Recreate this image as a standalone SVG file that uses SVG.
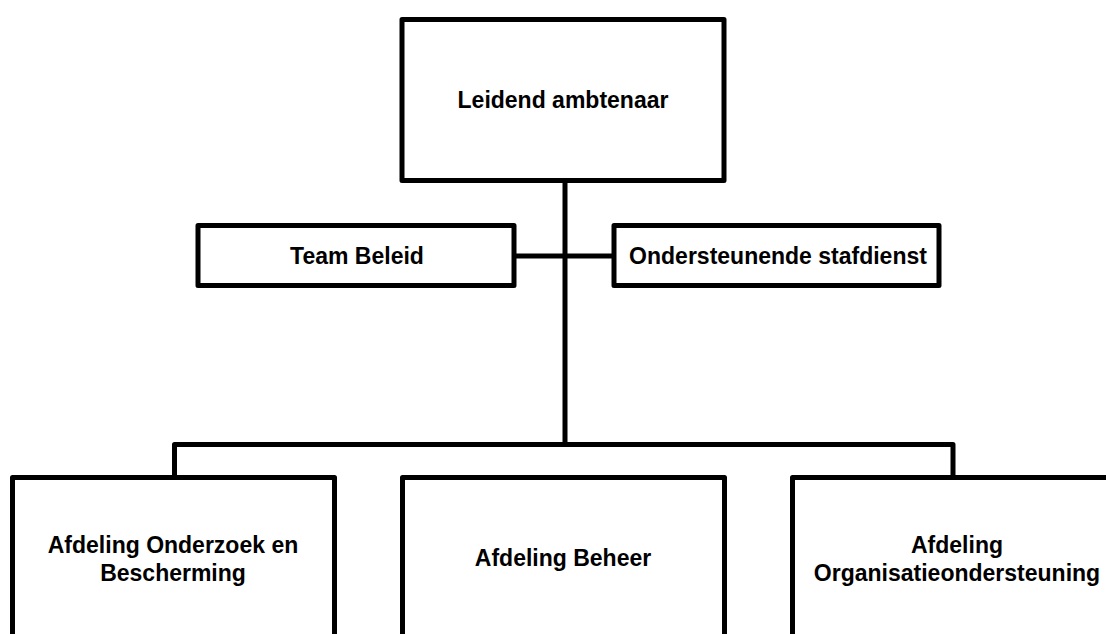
<svg xmlns="http://www.w3.org/2000/svg" width="1106" height="634" viewBox="0 0 1106 634">
<style>
.box{fill:#fff;stroke:#000;stroke-width:5;stroke-linejoin:round}
.ln{fill:none;stroke:#000;stroke-width:5;stroke-linejoin:round}
.t{font-family:"Liberation Sans",Arial,sans-serif;font-weight:bold;font-size:23px;text-anchor:middle;fill:#000}
</style>
<rect width="1106" height="634" fill="#fff"/>
<g id="connectors">
<path class="ln" d="M565 181 V445"/>
<path class="ln" d="M515 256 H614"/>
<path class="ln" d="M174.5 477 V444.5 H953 V477"/>
</g>
<g id="n-leidend">
<rect class="box" x="402" y="19.5" width="322" height="161"/>
<text class="t" x="563" y="108">Leidend ambtenaar</text>
</g>
<g id="n-team">
<rect class="box" x="198" y="225.5" width="316" height="60"/>
<text class="t" x="357" y="264">Team Beleid</text>
</g>
<g id="n-staf">
<rect class="box" x="614" y="225.5" width="325" height="60"/>
<text class="t" x="778" y="264">Ondersteunende stafdienst</text>
</g>
<g id="n-onderzoek">
<rect class="box" x="12.5" y="477.5" width="322" height="200"/>
<text class="t" x="173" y="553">Afdeling Onderzoek en</text>
<text class="t" x="173" y="581">Bescherming</text>
</g>
<g id="n-beheer">
<rect class="box" x="402.5" y="477.5" width="322" height="200"/>
<text class="t" x="563" y="566">Afdeling Beheer</text>
</g>
<g id="n-org">
<rect class="box" x="792.5" y="477.5" width="324" height="200"/>
<text class="t" x="957" y="553">Afdeling</text>
<text class="t" x="957" y="581">Organisatieondersteuning</text>
</g>
</svg>
